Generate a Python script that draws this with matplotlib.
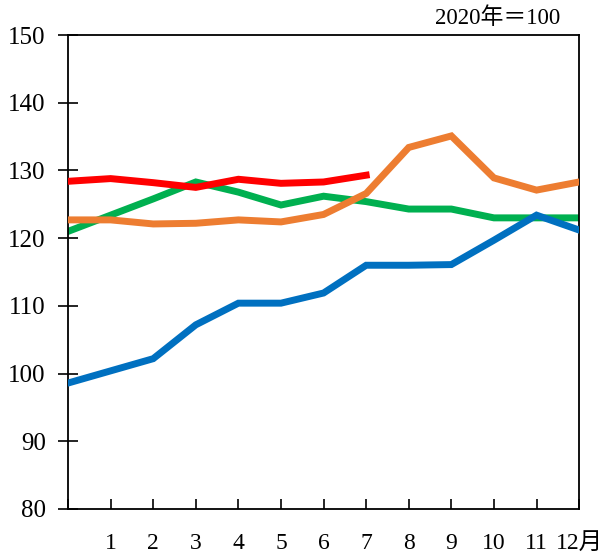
import matplotlib.pyplot as plt

# 月（0 = 前年12月）
months = list(range(0, 13))
month_labels = ["", "1", "2", "3", "4", "5", "6", "7", "8", "9", "10", "11", "12月"]

blue = [98.6, 100.4, 102.2, 107.2, 110.4, 110.4, 111.9, 116.0, 116.0, 116.1, 119.7, 123.4, 121.2]
green = [121.0, 123.4, 125.8, 128.3, 126.8, 124.9, 126.2, 125.4, 124.3, 124.3, 123.0, 123.0, 123.0]
orange = [122.7, 122.7, 122.1, 122.2, 122.7, 122.4, 123.5, 126.6, 133.4, 135.1, 128.9, 127.1, 128.3]
red = [128.4, 128.8, 128.2, 127.5, 128.7, 128.1, 128.3, 129.3]

plt.rcParams["font.family"] = ["Liberation Serif", "Noto Sans CJK JP"]

fig = plt.figure(figsize=(6.02, 5.53), dpi=100)
ax = fig.add_axes([0.113, 0.0796, 0.849, 0.857])

lw = 5
ax.plot(months, green, color="#00B050", lw=lw, solid_joinstyle="miter", zorder=2)
ax.plot(months, blue, color="#0070C0", lw=lw, solid_joinstyle="miter", zorder=3)
ax.plot(months, orange, color="#ED7D31", lw=lw, solid_joinstyle="miter", zorder=4)
ax.plot(months[:len(red)], red, color="#FF0000", lw=lw, solid_joinstyle="miter", zorder=5)

ax.set_xlim(0, 12)
ax.set_ylim(80, 150)
ax.set_xticks(months)
ax.set_xticklabels(month_labels)
ax.set_yticks(range(80, 151, 10))

ax.tick_params(axis="x", direction="in", length=7, width=1.2, pad=17, labelsize=17)
ax.tick_params(axis="y", direction="inout", length=14, width=1.2, pad=9, labelsize=18)
for sp in ax.spines.values():
    sp.set_linewidth(1.3)
    sp.set_color("black")

fig.text(0.93, 0.968, "2020年＝100", ha="right", va="center", fontsize=16.5)

fig.savefig("out.png", dpi=100)
